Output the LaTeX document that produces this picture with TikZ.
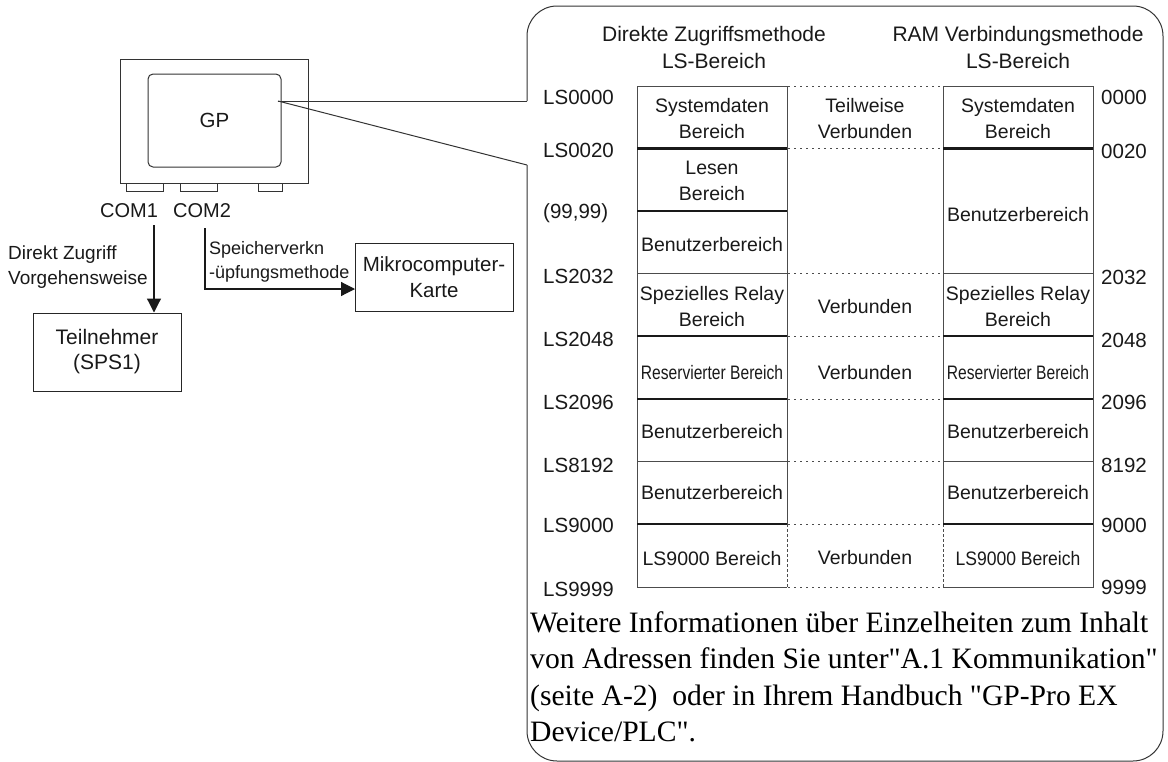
\documentclass[tikz,border=0pt]{standalone}
\usepackage{fontspec}
\setmainfont{Liberation Sans}
\newfontfamily\noteserif{Liberation Serif}
\usetikzlibrary{arrows.meta}

\tikzset{
  frame/.style={draw=black!80, line width=1pt},
  tline/.style={draw=black!70, line width=1pt},
  tthick/.style={draw=black!90, line width=2.2pt},
  tdots/.style={draw=black!70, line width=1pt, dash pattern=on 1.5pt off 4.5pt},
  tdash/.style={draw=black!70, line width=1pt, dash pattern=on 3pt off 2pt},
  arr/.style={draw=black!90, line width=1.2pt, -{Triangle[length=14pt,width=14pt]}},
  box/.style={draw=black!85, line width=1pt, align=center, inner sep=0pt,
              text=black!90, font=\fontsize{21}{25}\selectfont},
  lbl/.style={anchor=west, inner sep=0pt, text=black!90, font=\fontsize{20.5}{24}\selectfont},
  cell/.style={align=center, inner sep=0pt, text=black!90, font=\fontsize{19.5}{26}\selectfont},
  head/.style={align=center, inner sep=0pt, text=black!90, font=\fontsize{21}{27}\selectfont},
  note/.style={anchor=base west, inner sep=0pt, text=black, font=\noteserif\fontsize{29.6}{37}\selectfont},
}

\begin{document}
\begin{tikzpicture}[x=1pt,y=-1pt]
\useasboundingbox (0,0) rectangle (1168,761);

% ---- GP unit ----
\node[frame, minimum width=188pt, minimum height=124pt, inner sep=0pt] (gp) at (214,121) {};
\node[frame, rounded corners=5pt, minimum width=133pt, minimum height=93pt, inner sep=0pt,
      text=black!90, font=\fontsize{20.5}{24}\selectfont] (screen) at (214.5,120.5) {GP};
\node[frame, minimum width=37pt, minimum height=8pt, inner sep=0pt] (port1) at (144.5,187) {};
\node[frame, minimum width=37pt, minimum height=8pt, inner sep=0pt] (port2) at (198.5,187) {};
\node[frame, minimum width=24pt, minimum height=8pt, inner sep=0pt] (port3) at (270,187) {};
\node[inner sep=0pt, text=black!90, font=\fontsize{20}{24}\selectfont] (com1) at (129,211) {COM1};
\node[inner sep=0pt, text=black!90, font=\fontsize{20}{24}\selectfont] (com2) at (202,211) {COM2};

% ---- connected devices ----
\node[box, minimum width=148pt, minimum height=78pt] (teil) at (107,352) {Teilnehmer\\(SPS1)};
\node[box, font=\fontsize{20.5}{26}\selectfont, minimum width=158pt, minimum height=68pt] (mikro) at (434,277) {Mikrocomputer-\\Karte};

\coordinate (a1) at (154,225);
\draw[arr] (a1) -- (a1 |- teil.north);
\node[anchor=west, align=left, inner sep=0pt, text=black!90, font=\fontsize{19}{25}\selectfont]
  (lab1) at (8,267.5) {Direkt Zugriff\\Vorgehensweise};

\coordinate (a2) at (205,228);
\coordinate (k2) at (355,289);
\draw[arr] (a2) |- (k2);
\node[anchor=west, align=left, inner sep=0pt, text=black!90, font=\fontsize{18}{24}\selectfont]
  (lab2) at (209,262) {Speicherverkn\\-üpfungsmethode};

% ---- callout panel ----
\coordinate (tip) at (278,101);
\coordinate (cA) at (527,101);
\coordinate (cB) at (527,165);
\draw[frame] (tip) -- (cA);
\draw[frame] (tip) -- (cB);
\draw[frame, rounded corners=30pt] (cA) -- (527,6) -- (1163,6) -- (1163,761) -- (527,761) -- (cB);

% ---- headings ----
\node[head] (h1) at (714,47) {Direkte Zugriffsmethode\\LS-Bereich};
\node[head] (h2) at (1018,47) {RAM Verbindungsmethode\\LS-Bereich};

% ---- column frames ----
\draw[tline] (787,524) -- (787,86) -- (637,86) -- (637,587) -- (787,587);
\draw[tdash] (787,524) -- (787,587);
\draw[tline] (943,524) -- (943,86) -- (1093,86) -- (1093,587) -- (943,587);
\draw[tdash] (943,524) -- (943,587);

% separators, left column
\foreach \yy in {148.5,211,336,399,524} \draw[tthick] (637,\yy) -- (787,\yy);
\foreach \yy in {273.5,461.5} \draw[tline] (637,\yy) -- (787,\yy);
% separators, right column
\foreach \yy in {148.5,336,399,524} \draw[tthick] (943,\yy) -- (1093,\yy);
\foreach \yy in {273.5,461.5} \draw[tline] (943,\yy) -- (1093,\yy);
% dotted links between the columns
\foreach \yy in {86,148.5,273.5,336,399,461.5,524,587} \draw[tdots] (788,\yy) -- (942,\yy);

% ---- address labels ----
\node[lbl] (l0) at (543,97) {LS0000};
\node[lbl] (l1) at (543,150) {LS0020};
\node[lbl] (l2) at (543,213) {(99,99)};
\node[lbl] (l3) at (543,276) {LS2032};
\node[lbl] (l4) at (543,339) {LS2048};
\node[lbl] (l5) at (543,402) {LS2096};
\node[lbl] (l6) at (543,465) {LS8192};
\node[lbl] (l7) at (543,525) {LS9000};
\node[lbl] (l8) at (543,589) {LS9999};

\node[lbl] (r0) at (1101,97) {0000};
\node[lbl] (r1) at (1101,151) {0020};
\node[lbl] (r3) at (1101,277) {2032};
\node[lbl] (r4) at (1101,340) {2048};
\node[lbl] (r5) at (1101,402) {2096};
\node[lbl] (r6) at (1101,465) {8192};
\node[lbl] (r7) at (1101,525) {9000};
\node[lbl] (r8) at (1101,587) {9999};

% ---- left column contents ----
\node[cell] (c1) at (712,119) {Systemdaten\\Bereich};
\node[cell] (c2) at (712,181) {Lesen\\Bereich};
\node[cell] (c3) at (712,245) {Benutzerbereich};
\node[cell] (c4) at (712,307) {Spezielles Relay\\Bereich};
\node[cell] (c5) at (712,373) {\scalebox{0.8}[1]{Reservierter Bereich}};
\node[cell] (c6) at (712,432) {Benutzerbereich};
\node[cell] (c7) at (712,493) {Benutzerbereich};
\node[cell] (c8) at (712,559) {LS9000 Bereich};

% ---- middle contents ----
\node[cell] (m1) at (865,119) {Teilweise\\Verbunden};
\node[cell] (m4) at (865,307) {Verbunden};
\node[cell] (m5) at (865,373) {Verbunden};
\node[cell] (m8) at (865,558) {Verbunden};

% ---- right column contents ----
\node[cell] (d1) at (1018,119) {Systemdaten\\Bereich};
\node[cell] (d2) at (1018,215) {Benutzerbereich};
\node[cell] (d4) at (1018,307) {Spezielles Relay\\Bereich};
\node[cell] (d5) at (1018,373) {\scalebox{0.8}[1]{Reservierter Bereich}};
\node[cell] (d6) at (1018,432) {Benutzerbereich};
\node[cell] (d7) at (1018,493) {Benutzerbereich};
\node[cell] (d8) at (1018,559) {\scalebox{0.9}[1]{LS9000 Bereich}};

% ---- note ----
\node[note] (n1) at (530,632) {Weitere Informationen über Einzelheiten zum Inhalt};
\node[note] (n2) at (530,668.5) {von Adressen finden Sie unter"A.1 Kommunikation"};
\node[note] (n3) at (530,705) {(seite A-2)\ \ oder in Ihrem Handbuch "GP-Pro EX};
\node[note] (n4) at (530,741.5) {Device/PLC".};
\end{tikzpicture}
\end{document}
